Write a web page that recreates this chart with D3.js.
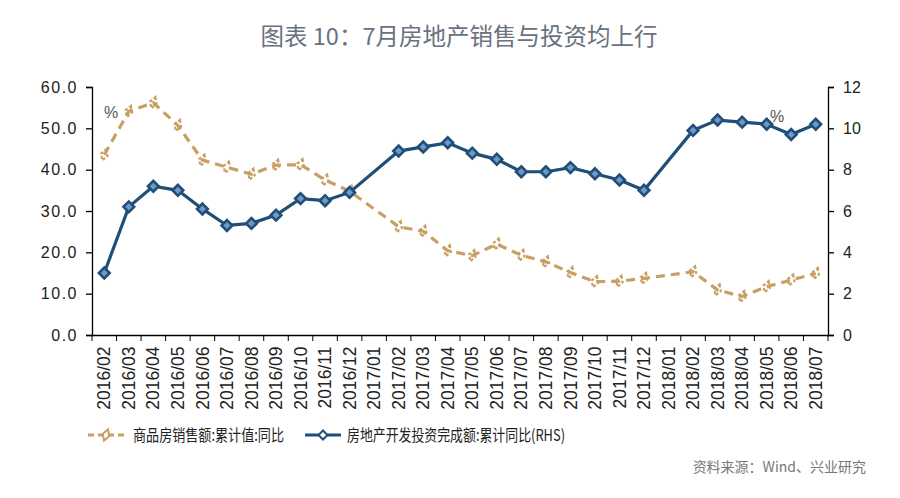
<!DOCTYPE html>
<html><head><meta charset="utf-8">
<script src="https://cdn.jsdelivr.net/npm/d3@7"></script>
<style>body{margin:0;background:#fff}svg{display:block}</style>
</head><body>
<svg id="c" width="900" height="498"></svg>
<script>
const categories = ["2016/02","2016/03","2016/04","2016/05","2016/06","2016/07","2016/08","2016/09","2016/10","2016/11","2016/12","2017/01","2017/02","2017/03","2017/04","2017/05","2017/06","2017/07","2017/08","2017/09","2017/10","2017/11","2017/12","2018/01","2018/02","2018/03","2018/04","2018/05","2018/06","2018/07"];
const salesYoY = [43.6,54.1,56.2,50.7,42.3,40.6,38.9,41.1,41.2,37.5,34.8,null,26.2,25.1,20.4,19.2,22.0,19.3,17.7,15.1,12.9,13.0,13.7,null,15.3,10.9,9.3,11.7,13.3,14.9];
const investYoY = [3.0,6.2,7.2,7.0,6.1,5.3,5.4,5.8,6.6,6.5,6.9,null,8.9,9.1,9.3,8.8,8.5,7.9,7.9,8.1,7.8,7.5,7.0,null,9.9,10.4,10.3,10.2,9.7,10.2];
const leftTicks = [0,10,20,30,40,50,60];
const rightTicks = [0,2,4,6,8,10,12];
const seriesNames = ["商品房销售额:累计值:同比","房地产开发投资完成额:累计同比(RHS)"];
const title = "图表 10：7月房地产销售与投资均上行";
const source = "资料来源：Wind、兴业研究";

const svg = d3.select("#c");
const L = 92, R = 828, T = 87, B = 335;
const x = d3.scaleBand().domain(categories).range([L, R]);
const yL = d3.scaleLinear().domain([0,60]).range([B,T]);
const yR = d3.scaleLinear().domain([0,12]).range([B,T]);
const orange = "#C9A064", blue = "#1F4E79";
const fontAx = "'Liberation Sans', Arial, sans-serif";
const cjk = "'Noto Sans CJK SC', sans-serif";

svg.append("text").attr("x",459).attr("y",45).attr("text-anchor","middle")
  .attr("font-family",cjk).attr("font-size",23.5)
  .attr("fill","#6A7180").text(title);

// left axis
const gL = svg.append("g").attr("transform",`translate(${L},0)`)
  .call(d3.axisLeft(yL).tickValues(leftTicks).tickFormat(d3.format(".1f")).tickSizeOuter(0).tickSize(6).tickPadding(8));
gL.selectAll("text").attr("font-family",fontAx).attr("font-size",16).attr("fill","#222").attr("letter-spacing","1.5");
const gR = svg.append("g").attr("transform",`translate(${R},0)`)
  .call(d3.axisRight(yR).tickValues(rightTicks).tickSizeOuter(0).tickSize(6).tickPadding(9));
gR.selectAll("text").attr("font-family",fontAx).attr("font-size",16).attr("fill","#222");
// bottom axis
const gB = svg.append("g").attr("transform",`translate(0,${B})`)
  .call(d3.axisBottom(x).tickSize(0).tickSizeOuter(0).tickPadding(8));
gB.selectAll("text").attr("font-family",fontAx).attr("font-size",17.5).attr("fill","#222")
  .attr("transform","rotate(-90)").attr("text-anchor","end").attr("dx","-0.2em").attr("dy","0.35em").attr("x",-8).attr("y",0);
// category boundary ticks
const bounds = categories.map(c=>x(c)).concat([R]);
svg.append("g").selectAll("line").data(bounds).join("line")
  .attr("x1",d=>d).attr("x2",d=>d).attr("y1",B).attr("y2",B+6).attr("stroke","#000");
svg.selectAll(".domain, .tick line").attr("stroke","#000").attr("stroke-width",1.3);

const cx = c => x(c) + x.bandwidth()/2;
const salesData = categories.map((c,i)=>({c,v:salesYoY[i]})).filter(d=>d.v!=null);
const invData = categories.map((c,i)=>({c,v:investYoY[i]})).filter(d=>d.v!=null);

svg.append("path").datum(salesData)
  .attr("d", d3.line().x(d=>cx(d.c)).y(d=>yL(d.v)))
  .attr("fill","none").attr("stroke",orange).attr("stroke-width",3.2).attr("stroke-dasharray","9,6");
const dm = d3.symbol().type(d3.symbolDiamond);
svg.append("g").selectAll("path").data(salesData).join("path")
  .attr("d", dm.size(40)()).attr("transform",d=>`translate(${cx(d.c)},${yL(d.v)}) rotate(20)`)
  .attr("fill","none").attr("stroke",orange).attr("stroke-width",2.2).attr("stroke-dasharray","3,2");

svg.append("path").datum(invData)
  .attr("d", d3.line().x(d=>cx(d.c)).y(d=>yR(d.v)))
  .attr("fill","none").attr("stroke",blue).attr("stroke-width",3.2);
const sq = d3.symbol().type(d3.symbolSquare).size(58);
svg.append("g").selectAll("path").data(invData).join("path")
  .attr("d", sq()).attr("transform",d=>`translate(${cx(d.c)},${yR(d.v)}) rotate(45)`)
  .attr("fill","#6F98C4").attr("stroke",blue).attr("stroke-width",2.6);

svg.append("text").attr("x",104).attr("y",118).attr("font-family",fontAx).attr("font-size",16).attr("fill","#555").text("%");
svg.append("text").attr("x",770).attr("y",122).attr("font-family",fontAx).attr("font-size",16).attr("fill","#555").text("%");

// legend
const lg = svg.append("g");
lg.append("line").attr("x1",88).attr("x2",124).attr("y1",435).attr("y2",435).attr("stroke",orange).attr("stroke-width",3).attr("stroke-dasharray","6,4");
lg.append("path").attr("d",dm.size(40)()).attr("transform","translate(106,435) rotate(20)").attr("fill","none").attr("stroke",orange).attr("stroke-width",2);
lg.append("text").attr("x",133).attr("y",441).attr("font-family",cjk).attr("font-size",16).attr("fill","#222")
  .attr("textLength",151).attr("lengthAdjust","spacingAndGlyphs").text(seriesNames[0]);
lg.append("line").attr("x1",305).attr("x2",341).attr("y1",435).attr("y2",435).attr("stroke",blue).attr("stroke-width",3.2);
lg.append("path").attr("d",d3.symbol().type(d3.symbolSquare).size(40)()).attr("transform","translate(323,435) rotate(45)").attr("fill","#fff").attr("stroke",blue).attr("stroke-width",2);
lg.append("text").attr("x",347).attr("y",441).attr("font-family",cjk).attr("font-size",16).attr("fill","#222")
  .attr("textLength",218).attr("lengthAdjust","spacingAndGlyphs").text(seriesNames[1]);

svg.append("text").attr("x",866).attr("y",472).attr("text-anchor","end").attr("font-family",cjk).attr("font-size",14).attr("fill","#777").text(source);
</script>
</body></html>
